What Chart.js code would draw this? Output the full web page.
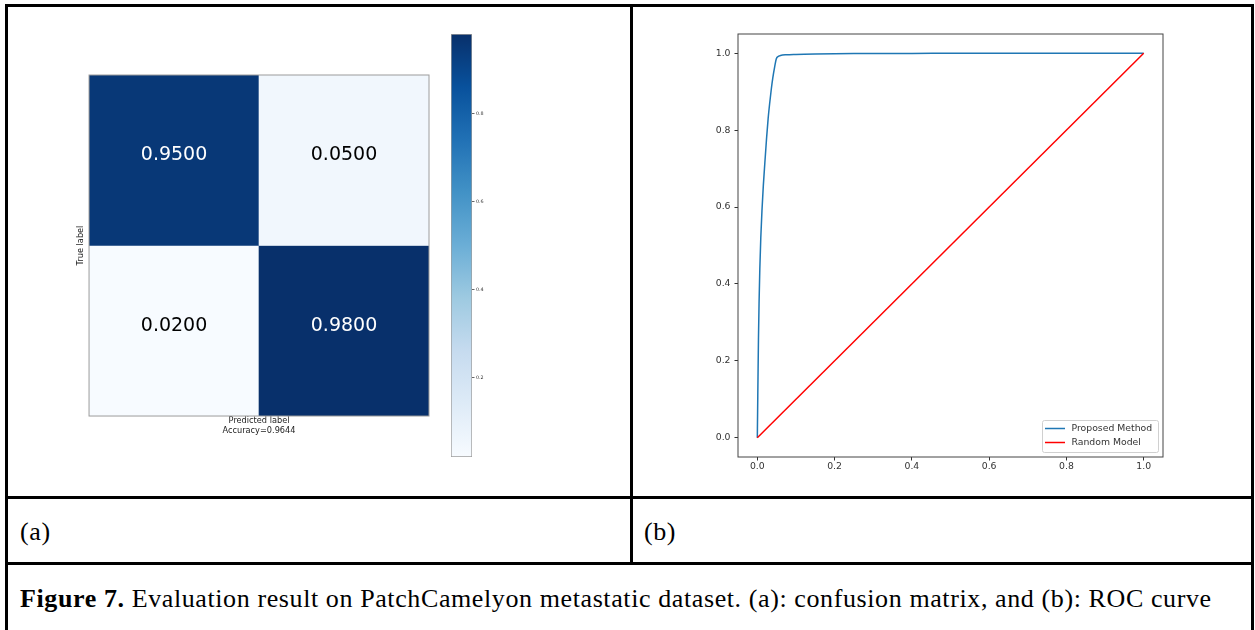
<!DOCTYPE html>
<html>
<head>
<meta charset="utf-8">
<script src="https://cdn.jsdelivr.net/npm/chart.js@4.4.1/dist/chart.umd.min.js"></script>
<style>
  body { margin: 0; width: 1255px; height: 630px; background: #fff; position: relative; overflow: hidden; font-family: "Liberation Serif", "Times New Roman", serif; color: #000; }
  .rule { position: absolute; background: #000; }
  .cell { position: absolute; display: flex; align-items: center; font-size: 26px; letter-spacing: 0.6px; white-space: nowrap; }
  canvas { position: absolute; }
</style>
</head>
<body>
  <!-- table rules -->
  <div class="rule" style="left:5px;top:4px;width:1249px;height:3px"></div>
  <div class="rule" style="left:5px;top:4px;width:3px;height:626px"></div>
  <div class="rule" style="left:630px;top:4px;width:3px;height:561px"></div>
  <div class="rule" style="left:1251px;top:4px;width:3px;height:626px"></div>
  <div class="rule" style="left:5px;top:496px;width:1249px;height:3px"></div>
  <div class="rule" style="left:5px;top:562px;width:1249px;height:3px"></div>

  <div class="cell" style="left:20px;top:500px;height:63px">(a)</div>
  <div class="cell" style="left:644px;top:500px;height:63px">(b)</div>
  <div class="cell" style="left:20px;top:566px;height:65px"><b>Figure 7.</b>&nbsp;Evaluation result on PatchCamelyon metastatic dataset. (a): confusion matrix, and (b): ROC curve</div>

  <canvas id="cm" width="380" height="380" style="left:60px;top:60px"></canvas>
  <canvas id="cbar" width="60" height="440" style="left:440px;top:25px"></canvas>
  <canvas id="roc" width="617" height="490" style="left:633px;top:7px"></canvas>

<script>
// confusion matrix (rows = true label, cols = predicted label)
const cmClasses = ["0", "1"];
const cmValues = [
  [0.95, 0.05],
  [0.02, 0.98],
];
const cmAccuracy = "0.9644";
const cmMin = 0.02;
const cmMax = 0.98;
const cbTicks = [0.2, 0.4, 0.6, 0.8];

// ROC curve
const rocFpr = [0, 0.0008, 0.0018, 0.003, 0.0045, 0.0065, 0.009, 0.012, 0.0155, 0.0195, 0.024, 0.028, 0.032, 0.036, 0.040, 0.045, 0.049, 0.053, 0.060, 0.075, 0.10, 0.15, 0.25, 0.40, 0.60, 0.80, 1.0];
const rocTpr = [0, 0.07, 0.16, 0.26, 0.35, 0.44, 0.52, 0.59, 0.655, 0.715, 0.78, 0.83, 0.87, 0.905, 0.935, 0.965, 0.985, 0.991, 0.994, 0.996, 0.997, 0.998, 0.999, 0.9995, 1.0, 1.0, 1.0];
const randFpr = [0, 1];
const randTpr = [0, 1];
const rocTicks = [0, 0.2, 0.4, 0.6, 0.8, 1.0];

// matplotlib "Blues"
const BLUES = ["#f7fbff", "#deebf7", "#c6dbef", "#9ecae1", "#6baed6", "#4292c6", "#2171b5", "#08519c", "#08306b"];

function hexToRgb(h) {
  return [parseInt(h.slice(1, 3), 16), parseInt(h.slice(3, 5), 16), parseInt(h.slice(5, 7), 16)];
}

function blues(v) {
  let t = (v - cmMin) / (cmMax - cmMin);
  t = Math.min(1, Math.max(0, t));
  const pos = t * (BLUES.length - 1);
  const i = Math.min(BLUES.length - 2, Math.floor(pos));
  const f = pos - i;
  const a = hexToRgb(BLUES[i]), b = hexToRgb(BLUES[i + 1]);
  const c = a.map((x, k) => Math.round(x + (b[k] - x) * f));
  return `rgb(${c[0]},${c[1]},${c[2]})`;
}

Chart.defaults.font.family = "'DejaVu Sans', sans-serif";
Chart.defaults.animation = false;

// frame round the plot area, like matplotlib spines
const framePlugin = {
  id: "frame",
  afterDraw(chart, args, opts) {
    const { ctx, chartArea: a } = chart;
    ctx.save();
    ctx.strokeStyle = opts.color || "#444";
    ctx.lineWidth = opts.width || 1;
    ctx.strokeRect(a.left, a.top, a.right - a.left, a.bottom - a.top);
    ctx.restore();
  },
};

// cell values written in the middle of each cell
const cellTextPlugin = {
  id: "cellText",
  afterDatasetsDraw(chart) {
    const { ctx } = chart;
    ctx.save();
    ctx.font = "19px 'DejaVu Sans'";
    ctx.textAlign = "center";
    ctx.textBaseline = "middle";
    chart.data.datasets.forEach((ds, i) => {
      chart.getDatasetMeta(i).data.forEach((bar, j) => {
        const v = cmValues[i][j];
        ctx.fillStyle = v > (cmMax + cmMin) / 2 ? "#fff" : "#000";
        ctx.fillText(v.toFixed(4), bar.x, (bar.y + bar.base) / 2 - 5);
      });
    });
    ctx.restore();
  },
};

// 🔹 Confusion matrix
new Chart(document.getElementById("cm"), {
  type: "bar",
  data: {
    labels: cmClasses,
    datasets: cmValues.map((row, i) => ({
      data: cmClasses.map(() => [cmClasses.length - 1 - i, cmClasses.length - i]),
      backgroundColor: row.map(blues),
      borderWidth: 0,
      grouped: false,
      barPercentage: 1,
      categoryPercentage: 1,
    })),
  },
  options: {
    responsive: false,
    devicePixelRatio: 1,
    layout: { padding: { top: 15, right: 11, left: 13.8, bottom: 4.3 } },
    plugins: { legend: { display: false }, tooltip: { enabled: false }, frame: { color: "#9c9c9c" } },
    scales: {
      x: {
        ticks: { display: false },
        grid: { display: false, drawTicks: false },
        border: { display: false },
        title: {
          display: true,
          text: ["Predicted label", "Accuracy=" + cmAccuracy],
          color: "#222",
          font: { size: 8.2, lineHeight: 1.2 },
          padding: { top: 0, bottom: 0 },
        },
      },
      y: {
        min: 0,
        max: cmClasses.length,
        ticks: { display: false },
        grid: { display: false, drawTicks: false },
        border: { display: false },
        title: {
          display: true,
          text: "True label",
          color: "#222",
          font: { size: 8.2, lineHeight: 1.2 },
          padding: { top: 2, bottom: 3.4 },
        },
      },
    },
  },
  plugins: [cellTextPlugin, framePlugin],
});

// 🔹 Colour bar
new Chart(document.getElementById("cbar"), {
  type: "bar",
  data: {
    labels: ["cb"],
    datasets: [{
      data: [[cmMin, cmMax]],
      backgroundColor(c) {
        const chart = c.chart;
        if (!chart.chartArea) return BLUES[0];
        const ys = chart.scales.y;
        const g = chart.ctx.createLinearGradient(0, ys.getPixelForValue(cmMin), 0, ys.getPixelForValue(cmMax));
        BLUES.forEach((col, k) => g.addColorStop(k / (BLUES.length - 1), col));
        return g;
      },
      borderColor: "#9c9c9c",
      borderWidth: 1,
      borderSkipped: false,
      barPercentage: 1,
      categoryPercentage: 1,
    }],
  },
  options: {
    responsive: false,
    devicePixelRatio: 1,
    layout: { padding: { top: 9, right: 8, left: 11, bottom: 8 } },
    plugins: { legend: { display: false }, tooltip: { enabled: false } },
    scales: {
      x: { display: false },
      y: {
        position: "right",
        min: cmMin,
        max: cmMax,
        afterBuildTicks: (s) => { s.ticks = cbTicks.map((v) => ({ value: v })); },
        afterFit: (s) => { s.width = 20; },
        ticks: { color: "#333", font: { size: 4.8 }, padding: 1.5, callback: (v) => v.toFixed(1) },
        grid: { drawOnChartArea: false, drawTicks: true, tickLength: 2.5, color: "#666" },
        border: { display: false },
      },
    },
  },
});

// legend box in the lower right corner of the plot area
const rocLegendPlugin = {
  id: "rocLegend",
  afterDraw(chart) {
    const { ctx, chartArea: a } = chart;
    const w = 116, h = 32;
    const x0 = a.right - 5 - w, y0 = a.bottom - 5 - h;
    ctx.save();
    ctx.fillStyle = "rgba(255,255,255,0.8)";
    ctx.strokeStyle = "#d0d0d0";
    ctx.lineWidth = 1;
    ctx.beginPath();
    ctx.roundRect(x0 + 0.5, y0 + 0.5, w, h, 2);
    ctx.fill();
    ctx.stroke();
    ctx.font = "9.3px 'DejaVu Sans'";
    ctx.textBaseline = "middle";
    chart.data.datasets.forEach((ds, k) => {
      const y = y0 + 8.5 + k * 14;
      ctx.strokeStyle = ds.borderColor;
      ctx.lineWidth = 1.5;
      ctx.beginPath();
      ctx.moveTo(x0 + 3, y);
      ctx.lineTo(x0 + 23, y);
      ctx.stroke();
      ctx.fillStyle = "#333";
      ctx.fillText(ds.label, x0 + 29.5, y);
    });
    ctx.restore();
  },
};

const tickAxis = (extra) => Object.assign({
  type: "linear",
  min: -0.05,
  max: 1.05,
  afterBuildTicks: (s) => { s.ticks = rocTicks.map((v) => ({ value: v })); },
  ticks: { color: "#333", font: { size: 9.3 }, callback: (v) => v.toFixed(1) },
  grid: { drawOnChartArea: false, drawTicks: true, tickLength: 3.5, color: "#333" },
  border: { display: false },
}, extra);

// 🔹 ROC curve
new Chart(document.getElementById("roc"), {
  type: "scatter",
  data: {
    datasets: [
      {
        label: "Proposed Method",
        data: rocFpr.map((x, i) => ({ x, y: rocTpr[i] })),
        showLine: true,
        borderColor: "#1f77b4",
        borderWidth: 1.5,
        pointRadius: 0,
        // monotone avoids the per-pixel "fast path" that makes steps on the steep part
        cubicInterpolationMode: "monotone",
        order: 1,
      },
      {
        label: "Random Model",
        data: randFpr.map((x, i) => ({ x, y: randTpr[i] })),
        showLine: true,
        borderColor: "#ff0000",
        borderWidth: 1.5,
        pointRadius: 0,
        order: 0,
      },
    ],
  },
  options: {
    responsive: false,
    devicePixelRatio: 1,
    layout: { padding: { top: 27, right: 87, left: 75, bottom: 15 } },
    plugins: { legend: { display: false }, tooltip: { enabled: false }, frame: { color: "#444" } },
    scales: {
      x: tickAxis({ position: "bottom", afterFit: (s) => { s.height = 25; }, ticks: { color: "#333", font: { size: 9.3 }, padding: 1, callback: (v) => v.toFixed(1) } }),
      y: tickAxis({ position: "left", afterFit: (s) => { s.width = 30; }, ticks: { color: "#333", font: { size: 9.3 }, padding: 4, callback: (v) => v.toFixed(1) } }),
    },
  },
  plugins: [framePlugin, rocLegendPlugin],
});
</script>
</body>
</html>
